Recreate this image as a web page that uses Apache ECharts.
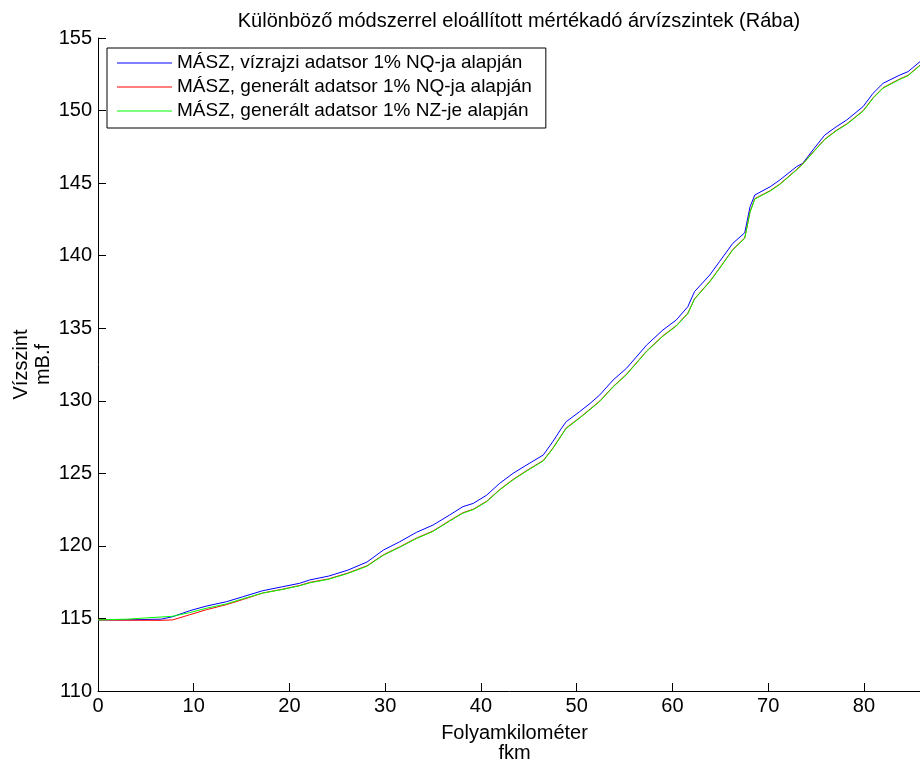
<!DOCTYPE html>
<html>
<head>
<meta charset="utf-8">
<script src="https://cdn.jsdelivr.net/npm/echarts@6/dist/echarts.min.js"></script>
<style>
html,body{margin:0;padding:0;background:#fff;overflow:hidden;}
#chart{width:920px;height:765px;}
</style>
</head>
<body>
<div id="chart"></div>
<script>
// River kilometre positions (shared by all three series)
const km = [0, 3, 6.6, 7.8, 9.56, 11.3, 13.4, 15.1, 17.2, 19.3, 21.05, 22.1, 24.1, 26.1, 28.1, 29.8, 31.5, 33.25, 35.0, 36.7, 38.1, 39.2, 40.6, 41.95, 43.35, 44.75, 46.5, 47.5, 48.4, 48.9, 50.3, 51.4, 52.4, 53.8, 55.2, 57.3, 59.0, 60.4, 61.6, 62.3, 63.9, 64.9, 66.3, 67.55, 68.1, 68.6, 70.2, 71.2, 72.95, 73.6, 74.8, 75.9, 77.1, 78.2, 79.9, 80.95, 82.0, 83.75, 84.6, 85.85, 87];

// MÁSZ, vízrajzi adatsor 1% NQ-ja alapján
const blueLevels = [114.9, 114.9, 114.95, 115.12, 115.53, 115.85, 116.15, 116.49, 116.91, 117.19, 117.42, 117.65, 117.92, 118.33, 118.89, 119.71, 120.28, 120.93, 121.44, 122.12, 122.7, 122.93, 123.5, 124.31, 125.0, 125.57, 126.26, 127.18, 128.1, 128.56, 129.25, 129.82, 130.4, 131.43, 132.24, 133.84, 134.88, 135.57, 136.48, 137.52, 138.67, 139.58, 140.85, 141.58, 143.37, 144.18, 144.75, 145.21, 146.13, 146.36, 147.4, 148.31, 148.88, 149.35, 150.27, 151.19, 151.88, 152.45, 152.68, 153.37, 153.9];

// MÁSZ, generált adatsor 1% NQ-ja alapján
const redLevels = [114.9, 114.88, 114.87, 114.9, 115.25, 115.6, 115.95, 116.3, 116.75, 117.02, 117.27, 117.48, 117.73, 118.13, 118.63, 119.38, 119.93, 120.53, 121.03, 121.73, 122.28, 122.53, 123.08, 123.88, 124.58, 125.18, 125.88, 126.73, 127.63, 128.13, 128.83, 129.43, 129.98, 130.98, 131.83, 133.43, 134.48, 135.18, 136.03, 137.03, 138.23, 139.13, 140.43, 141.23, 143.03, 143.93, 144.48, 144.93, 145.93, 146.33, 147.23, 148.03, 148.63, 149.08, 149.98, 150.88, 151.58, 152.18, 152.43, 153.13, 153.63];

// MÁSZ, generált adatsor 1% NZ-je alapján
const greenLevels = [114.9, 114.95, 115.1, 115.15, 115.4, 115.7, 116.0, 116.35, 116.75, 117.0, 117.25, 117.45, 117.7, 118.1, 118.6, 119.35, 119.9, 120.5, 121.0, 121.7, 122.25, 122.5, 123.05, 123.85, 124.55, 125.15, 125.85, 126.7, 127.6, 128.1, 128.8, 129.4, 129.95, 130.95, 131.8, 133.4, 134.45, 135.15, 136.0, 137.0, 138.2, 139.1, 140.4, 141.2, 143.0, 143.9, 144.45, 144.9, 145.9, 146.3, 147.2, 148.0, 148.6, 149.05, 149.95, 150.85, 151.55, 152.15, 152.4, 153.1, 153.6];

const seriesNames = [
  'MÁSZ, vízrajzi adatsor 1% NQ-ja alapján',
  'MÁSZ, generált adatsor 1% NQ-ja alapján',
  'MÁSZ, generált adatsor 1% NZ-je alapján'
];
const seriesColors = ['#0000ff', '#ff0000', '#00ff00'];
const titleText = 'Különböző módszerrel eloállított mértékadó árvízszintek (Rába)';
const xAxisName = 'Folyamkilométer\nfkm';
const yAxisName = 'Vízszint\nmB.f';

const FONT = "'Liberation Sans', Arial, sans-serif";
const pair = arr => km.map((k, i) => [k, arr[i]]);
const levels = [blueLevels, redLevels, greenLevels];

const chart = echarts.init(document.getElementById('chart'), null, {renderer: 'canvas'});
chart.setOption({
  animation: false,
  backgroundColor: '#fff',
  textStyle: {fontFamily: FONT},
  title: {
    text: titleText,
    left: 514,
    top: 6,
    textAlign: 'center',
    textStyle: {fontFamily: FONT, fontSize: 20, fontWeight: 'normal', color: '#000'}
  },
  legend: {
    show: true,
    orient: 'vertical',
    left: 107,
    top: 48,
    padding: [3, 14, 5, 10],
    icon: 'rect',
    itemWidth: 55,
    itemHeight: 1,
    itemGap: 0,
    backgroundColor: '#fff',
    borderColor: '#000',
    borderWidth: 1,
    borderRadius: 0,
    textStyle: {fontFamily: FONT, fontSize: 19, color: '#000', lineHeight: 24}
  },
  grid: {left: 98, top: 38, bottom: 74, right: -11, containLabel: false, outerBoundsMode: 'none'},
  xAxis: {
    type: 'value',
    min: 0,
    max: 87,
    interval: 10,
    name: xAxisName,
    nameLocation: 'middle',
    nameGap: 32,
    nameMoveOverlap: false,
    nameTextStyle: {fontFamily: FONT, fontSize: 20, color: '#000', lineHeight: 20, verticalAlign: 'top'},
    axisLine: {show: true, onZero: false, lineStyle: {color: '#000', width: 1}},
    axisTick: {inside: true, length: 8, lineStyle: {color: '#000'}},
    axisLabel: {fontFamily: FONT, fontSize: 20, color: '#000', margin: 5,
      formatter: v => (v % 10 === 0 ? String(v) : '')},
    splitLine: {show: false}
  },
  yAxis: {
    type: 'value',
    min: 110,
    max: 155,
    interval: 5,
    name: yAxisName,
    nameLocation: 'middle',
    nameRotate: 90,
    nameGap: 44,
    nameMoveOverlap: false,
    nameTextStyle: {fontFamily: FONT, fontSize: 20, color: '#000', lineHeight: 22},
    axisLine: {show: true, onZero: false, lineStyle: {color: '#000', width: 1}},
    axisTick: {show: true, inside: true, length: 8, lineStyle: {color: '#000'}},
    axisLabel: {fontFamily: FONT, fontSize: 20, color: '#000', margin: 6},
    splitLine: {show: false}
  },
  series: seriesNames.map((n, i) => ({
    name: n,
    type: 'line',
    data: pair(levels[i]),
    symbol: 'none',
    smooth: false,
    color: seriesColors[i],
    lineStyle: {color: seriesColors[i], width: 1},
    itemStyle: {color: seriesColors[i]},
    z: 2 + i
  }))
});
</script>
</body>
</html>
